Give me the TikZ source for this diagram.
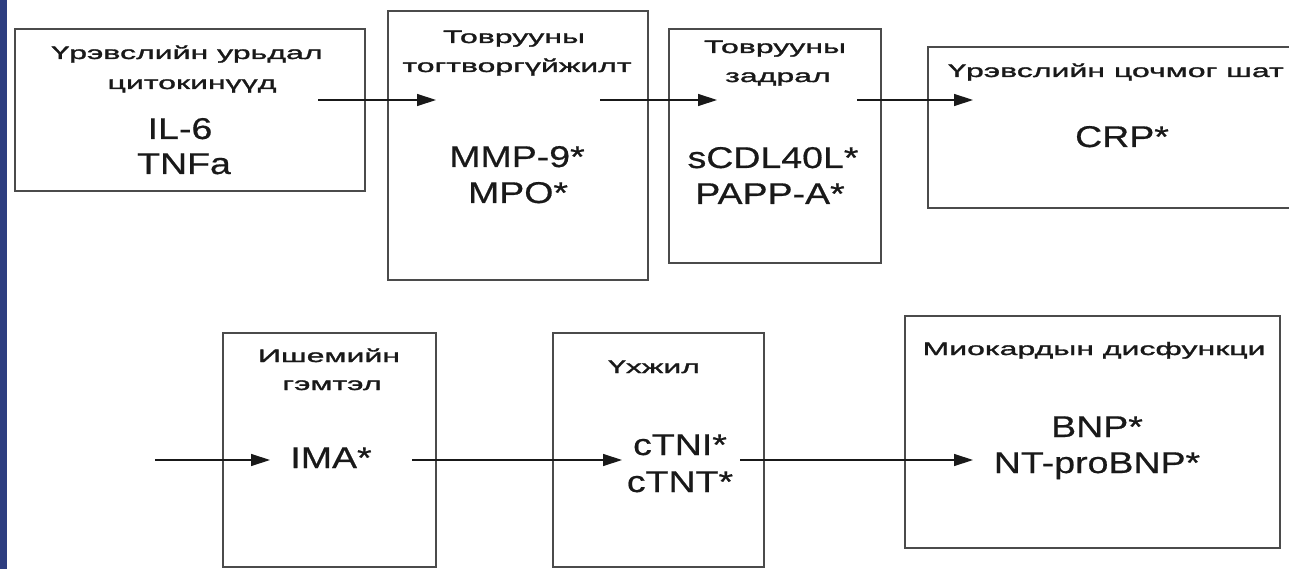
\documentclass[tikz,border=0pt]{standalone}
\usepackage{fontspec}
\setmainfont{Liberation Sans}
\newfontfamily\ttlfont[FakeStretch=1.78,FakeBold=1.6]{Liberation Sans}
\newfontfamily\valfont[FakeStretch=1.25,FakeBold=0.6]{Liberation Sans}
\usetikzlibrary{arrows.meta}
\definecolor{barblue}{RGB}{46,62,128}
\definecolor{boxline}{RGB}{75,75,75}
\definecolor{inkc}{RGB}{25,25,25}
\begin{document}
\begin{tikzpicture}[x=1pt,y=-1pt,
  stage/.style={draw=boxline, line width=2pt, rectangle, inner sep=0pt, fill=none},
  ttl/.style={anchor=base, inner sep=0pt, text=inkc, font=\ttlfont\fontsize{18}{22}\selectfont},
  val/.style={anchor=base, inner sep=0pt, text=inkc, font=\valfont\fontsize{30}{36}\selectfont},
  link/.style={draw=inkc, line width=1.3pt, -{Triangle[length=19pt,width=12pt]}}]
\useasboundingbox (0,0) rectangle (1289,569);
\fill[white] (0,0) rectangle (1289,569);
\fill[barblue] (0,0) rectangle (7,569);

% boxes
\node[stage, minimum width=350pt, minimum height=162pt] (b1) at (190,110) {};
\node[stage, minimum width=260pt, minimum height=269pt] (b2) at (518,145.5) {};
\node[stage, minimum width=212pt, minimum height=234pt] (b3) at (775,146) {};
\node[stage, minimum width=372pt, minimum height=161pt] (b4) at (1114,127.5) {};
\node[stage, minimum width=213pt, minimum height=234pt] (b5) at (329.5,450) {};
\node[stage, minimum width=211pt, minimum height=234pt] (b6) at (658.5,450) {};
\node[stage, minimum width=375pt, minimum height=232pt] (b7) at (1092.5,432) {};

% titles
\node[ttl] (t1a) at (187,59) {Үрэвслийн урьдал};
\node[ttl] (t1b) at (192,89) {цитокинүүд};
\node[ttl] (t2a) at (514,43) {Товрууны};
\node[ttl] (t2b) at (517,72) {тогтворгүйжилт};
\node[ttl] (t3a) at (775,53) {Товрууны};
\node[ttl] (t3b) at (778,82) {задрал};
\node[ttl, anchor=base west] (t4) at (948,77) {Үрэвслийн цочмог шат};
\node[ttl] (t5a) at (329,362) {Ишемийн};
\node[ttl] (t5b) at (332,390) {гэмтэл};
\node[ttl] (t6) at (654,373) {Үхжил};
\node[ttl] (t7) at (1094,355) {Миокардын дисфункци};

% values
\node[val] (v1a) at (180,139) {IL-6};
\node[val] (v1b) at (184,174) {TNFa};
\node[val] (v2a) at (517,167) {MMP-9*};
\node[val] (v2b) at (518,203) {MPO*};
\node[val] (v3a) at (773,168) {sCDL40L*};
\node[val] (v3b) at (770,204) {PAPP-A*};
\node[val] (v4) at (1122,147) {CRP*};
\node[val] (v5) at (331,468) {IMA*};
\node[val] (v6a) at (680,455) {cTNI*};
\node[val] (v6b) at (680,492) {cTNT*};
\node[val] (v7a) at (1097,437) {BNP*};
\node[val] (v7b) at (1097,473) {NT-proBNP*};

% arrow end points
\coordinate (s1) at (318,100); \coordinate (e1) at (436,100);
\coordinate (s2) at (600,100); \coordinate (e2) at (717,100);
\coordinate (s3) at (857,100); \coordinate (e3) at (973,100);
\coordinate (s4) at (155,460); \coordinate (e4) at (270,460);
\coordinate (s5) at (412,460); \coordinate (e5) at (622,460);
\coordinate (s6) at (740,460); \coordinate (e6) at (973,460);

\draw[link] (s1) -- (e1);
\draw[link] (s2) -- (e2);
\draw[link] (s3) -- (e3);
\draw[link] (s4) -- (e4);
\draw[link] (s5) -- (e5);
\draw[link] (s6) -- (e6);
\end{tikzpicture}
\end{document}
